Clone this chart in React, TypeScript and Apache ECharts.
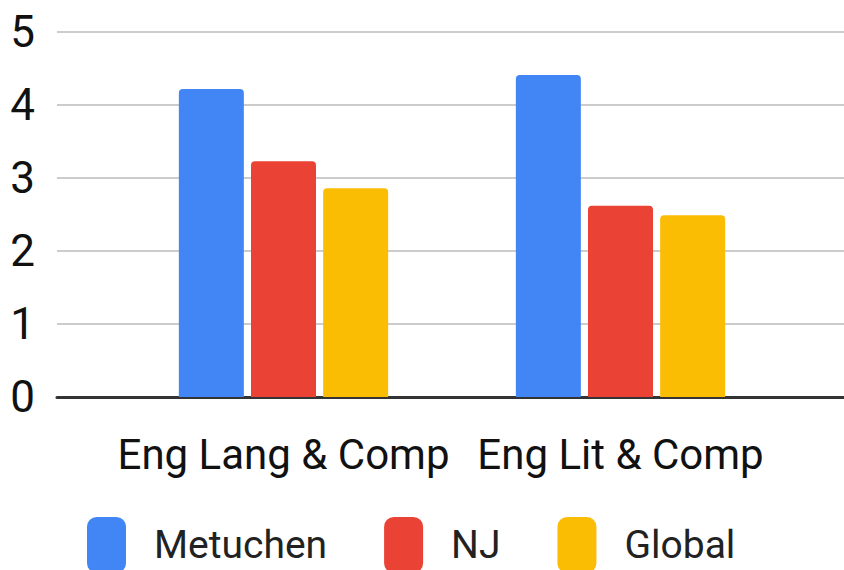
import React, { useEffect, useRef } from "react";
import * as echarts from "echarts";

const categories = ["Eng Lang & Comp", "Eng Lit & Comp"];
const seriesNames = ["Metuchen", "NJ", "Global"];
const metuchen = [4.22, 4.41];
const nj = [3.23, 2.62];
const global = [2.86, 2.49];
const yTicks = [0, 1, 2, 3, 4, 5];
const colors = ["#4285F4", "#EA4335", "#FBBC04"];

const FONT = "Roboto, 'Liberation Sans', Arial, sans-serif";

export default function App() {
  const ref = useRef<HTMLDivElement>(null);
  useEffect(() => {
    if (!ref.current) return;
    const chart = echarts.init(ref.current, null, { renderer: "svg" });
    const values = [metuchen, nj, global];
    chart.setOption({
      animation: false,
      backgroundColor: "#ffffff",
      color: colors,
      legend: {
        left: 87,
        top: 517,
        padding: 0,
        itemWidth: 39,
        itemHeight: 56,
        itemGap: 57,
        icon: "roundRect",
        data: seriesNames,
        textStyle: {
          fontFamily: FONT,
          fontSize: 39,
          color: "#222",
          padding: [0, 0, 0, 23],
        },
      },
      grid: [
        { left: 57, right: 0, top: 32, bottom: 173, containLabel: false },
        { left: 115, right: 55, top: 32, bottom: 173, containLabel: false },
      ],
      xAxis: [
        {
          gridIndex: 0,
          type: "value",
          min: 0,
          max: 1,
          axisLabel: { show: false },
          axisTick: { show: false },
          splitLine: { show: false },
          axisLine: { show: true, lineStyle: { color: "#333", width: 3 } },
        },
        {
          gridIndex: 1,
          type: "category",
          data: categories,
          axisLine: { show: false },
          axisTick: { show: false },
          axisLabel: {
            margin: 36,
            fontFamily: FONT,
            fontSize: 42,
            color: "#111",
            interval: 0,
          },
        },
      ],
      yAxis: [
        {
          gridIndex: 0,
          type: "value",
          min: 0,
          max: 5,
          interval: 1,
          axisLine: { show: false },
          axisTick: { show: false },
          axisLabel: {
            margin: 22,
            fontFamily: FONT,
            fontSize: 44,
            color: "#111",
            formatter: (v: number) => (yTicks.includes(v) ? String(v) : ""),
          },
          splitLine: { show: true, lineStyle: { color: "#cccccc", width: 2 } },
        },
        {
          gridIndex: 1,
          type: "value",
          min: 0,
          max: 5,
          interval: 1,
          show: false,
          splitLine: { show: false },
        },
      ],
      series: seriesNames.map((name, i) => ({
        name,
        type: "bar",
        xAxisIndex: 1,
        yAxisIndex: 1,
        data: values[i],
        barWidth: 65,
        barGap: "11%",
        itemStyle: { color: colors[i], borderRadius: [4, 4, 0, 0] },
      })),
    });
    return () => chart.dispose();
  }, []);
  return (
    <div
      ref={ref}
      style={{ position: "fixed", left: 0, top: 0, width: 844, height: 570 }}
    />
  );
}
